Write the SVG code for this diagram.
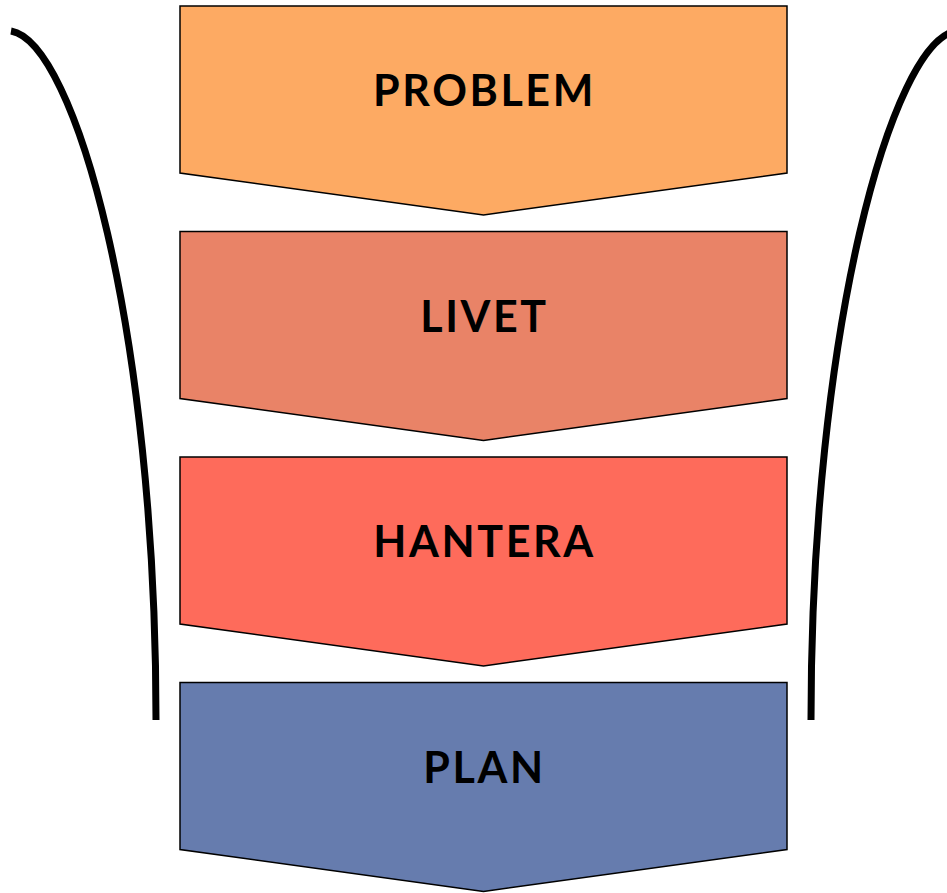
<svg xmlns="http://www.w3.org/2000/svg" width="947" height="893" viewBox="0 0 947 893">
<style>
.box{stroke:#000;stroke-width:1.5;stroke-linejoin:miter}
.lbl{font-family:"Lato","DejaVu Sans",sans-serif;font-weight:bold;font-size:43px;fill:#000;text-anchor:middle;letter-spacing:2.6px}
.curve{fill:none;stroke:#000;stroke-width:7}
</style>
<rect width="947" height="893" fill="#fff"/>
<g id="connectors">
<path class="curve" d="M11,31 C75,42 156,330 156,720"/>
<path class="curve" d="M956,31 C892,42 811,330 811,720"/>
</g>
<g id="node-problem">
<path class="box" fill="#FDAA63" d="M180,6 H787 V173 L483.5,215 L180,173 Z"/>
<text class="lbl" x="484.5" y="106">PROBLEM</text>
</g>
<g id="node-livet">
<path class="box" fill="#E98367" d="M180,231.5 H787 V398.5 L483.5,440.5 L180,398.5 Z"/>
<text class="lbl" x="484.5" y="331.5">LIVET</text>
</g>
<g id="node-hantera">
<path class="box" fill="#FE6B5B" d="M180,457 H787 V624 L483.5,666 L180,624 Z"/>
<text class="lbl" x="484.5" y="557">HANTERA</text>
</g>
<g id="node-plan">
<path class="box" fill="#667CAE" d="M180,682.5 H787 V849.5 L483.5,891.5 L180,849.5 Z"/>
<text class="lbl" x="484.5" y="782.5">PLAN</text>
</g>
</svg>
